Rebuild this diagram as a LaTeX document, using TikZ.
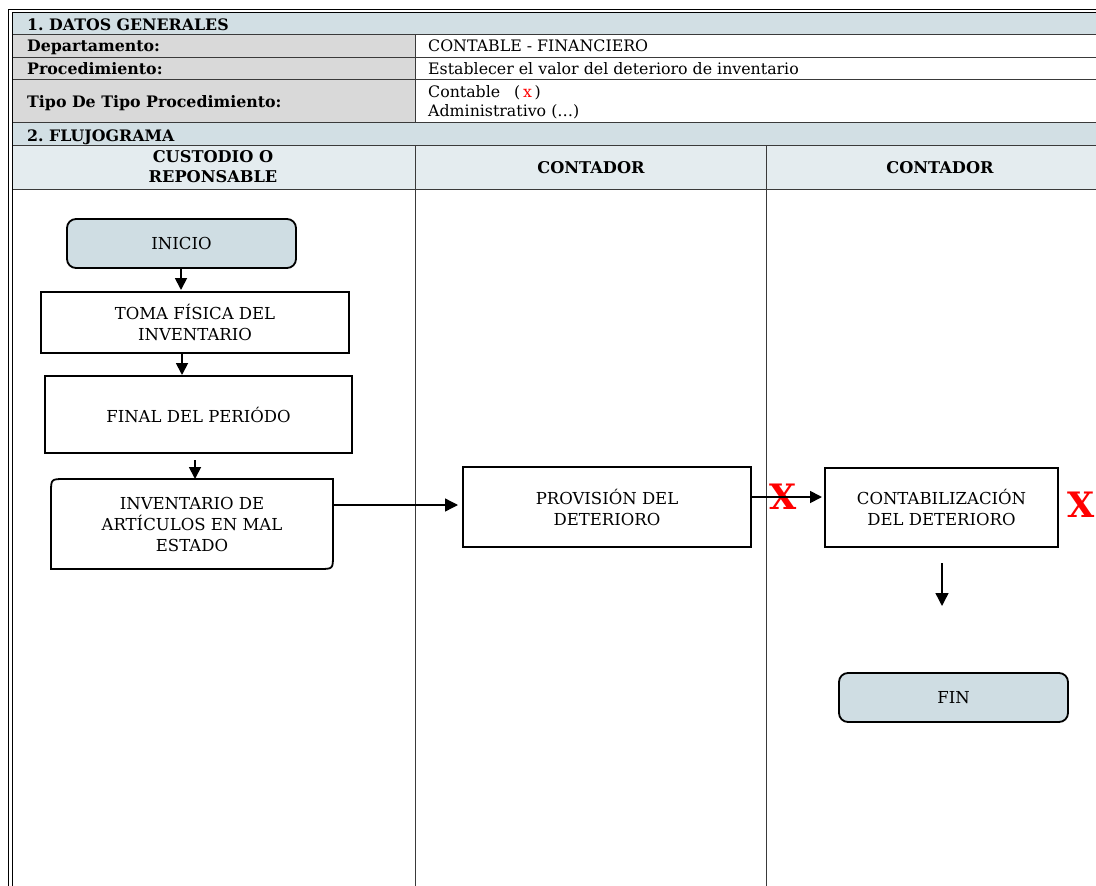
\documentclass[tikz,border=0pt]{standalone}
\usepackage{fontspec}
\setmainfont{DejaVu Serif}
\usetikzlibrary{calc,arrows.meta}
\frenchspacing
\definecolor{bluerow}{HTML}{D2DFE4}
\definecolor{headrow}{HTML}{E4ECEF}
\definecolor{graycell}{HTML}{D9D9D9}
\definecolor{termfill}{HTML}{CFDDE3}
\definecolor{tline}{HTML}{3A3A3A}
\definecolor{xred}{HTML}{FF0000}
\tikzset{
  tabtxt/.style={anchor=base west, inner sep=0pt, font=\fontsize{15.8}{18}\selectfont},
  tabbold/.style={tabtxt, font=\fontsize{15.8}{18}\selectfont\bfseries},
  headtxt/.style={inner sep=0pt, align=center, font=\fontsize{16.2}{20}\selectfont\bfseries},
  tabline/.style={draw=tline, line width=0.8pt},
  lanebox/.style={draw=black, line width=1.8pt, outer sep=0pt, inner sep=2pt, align=center,
     font=\fontsize{16.5}{21}\selectfont},
  termbox/.style={lanebox, fill=termfill, rounded corners=9pt},
  plainnode/.style={draw=none, outer sep=0pt, inner sep=2pt, align=center,
     font=\fontsize{16.5}{21}\selectfont},
  arr/.style={line width=1.8pt, -{Triangle[length=12pt,width=12pt]}},
  arrthin/.style={line width=1.4pt, -{Triangle[length=13pt,width=13pt]}},
  redx/.style={inner sep=0pt, text=xred, font=\fontsize{35}{35}\selectfont\bfseries}
}
\begin{document}
\begin{tikzpicture}[x=1pt,y=-1pt]
\useasboundingbox (0,0) rectangle (1096,886);
% fills
\fill[bluerow] (12,12) rectangle (1096,34);
\fill[graycell] (12,34) rectangle (415,122);
\fill[bluerow] (12,122) rectangle (1096,145);
\fill[headrow] (12,145) rectangle (1096,189);
% table lines
\foreach \yy in {34,57,79,122,145,189} {\draw[tabline] (12,\yy) -- (1096,\yy);}
\draw[tabline] (415,34) -- (415,122);
\draw[tabline] (415,145) -- (415,886);
\draw[tabline] (766,145) -- (766,886);
% outer frame
\draw[line width=1.6pt] (8.5,886) -- (8.5,9.5) -- (1096,9.5);
\draw[line width=0.8pt] (12.5,886) -- (12.5,12.5) -- (1096,12.5);
% table texts
\node[tabbold] (t1) at (27,30.5) {1. DATOS GENERALES};
\node[tabbold] (t2) at (27,51.5) {Departamento:};
\node[tabtxt] (v2) at (428,51.5) {CONTABLE - FINANCIERO};
\node[tabbold] (t3) at (27,74) {Procedimiento:};
\node[tabtxt] (v3) at (428,74) {Establecer el valor del deterioro de inventario};
\node[tabbold] (t4) at (27,107) {Tipo De Tipo Procedimiento:};
\node[tabtxt] (v4a) at (428,97) {Contable};
\node[tabtxt] (v4b) at (514,97) {(\,\textcolor{xred}{x}\,)};
\node[tabtxt] (v4c) at (428,116) {Administrativo (…)};
\node[tabbold] (t5) at (27,141.5) {2. FLUJOGRAMA};
% lane headers
\node[headtxt] (h1) at (213,167) {CUSTODIO O\\REPONSABLE};
\node[headtxt] (h2) at (591,168) {CONTADOR};
\node[headtxt] (h3) at (940,168) {CONTADOR};
% flow nodes
\node[termbox, minimum width=229pt, minimum height=49pt] (ini) at (181.5,243.5) {INICIO};
\node[lanebox, minimum width=308pt, minimum height=61pt] (toma) at (195,322.5) {TOMA FÍSICA DEL\\INVENTARIO};
\node[lanebox, minimum width=307pt, minimum height=77pt] (fin1) at (198.5,414.5) {FINAL DEL PERIÓDO};
\node[plainnode, minimum width=282pt, minimum height=90pt] (inv) at (192,524) {INVENTARIO DE\\ARTÍCULOS EN MAL\\ESTADO};
\draw[line width=1.8pt] (inv.north east) -- ($(inv.north west)+(14,0)$) .. controls (inv.north west) .. ($(inv.north west)+(0,14)$)
   -- (inv.south west) -- ($(inv.south east)+(-14,0)$) .. controls (inv.south east) .. ($(inv.south east)+(0,-14)$) -- cycle;
\node[lanebox, minimum width=288pt, minimum height=80pt] (prov) at (607,507) {PROVISIÓN DEL\\DETERIORO};
\node[lanebox, minimum width=233pt, minimum height=79pt] (cont) at (941.5,507.5) {CONTABILIZACIÓN\\DEL DETERIORO};
\node[termbox, minimum width=229pt, minimum height=49pt] (fin) at (953.5,697.5) {FIN};
% red marks
\node[redx] (x1) at (783,497) {X};
\node[redx] (x2) at (1081,505) {X};
% connectors
\draw[arr] (ini.south -| 181,0) -- (181,290);
\coordinate (a2s) at (182,353);
\coordinate (a2e) at (182,375);
\draw[arr] (a2s) -- (a2e);
\coordinate (a3s) at (195,460);
\draw[arr] (a3s) -- (a3s |- inv.north);
\coordinate (a4s) at (333,505);
\draw[arrthin, shorten >=5pt] (a4s) -- (a4s -| prov.west);
\coordinate (a5s) at (751,497);
\draw[arr, shorten >=3pt] (a5s) -- (a5s -| cont.west);
\coordinate (a6s) at (942,563);
\coordinate (a6e) at (942,606);
\draw[arrthin] (a6s) -- (a6e);
\end{tikzpicture}
\end{document}
